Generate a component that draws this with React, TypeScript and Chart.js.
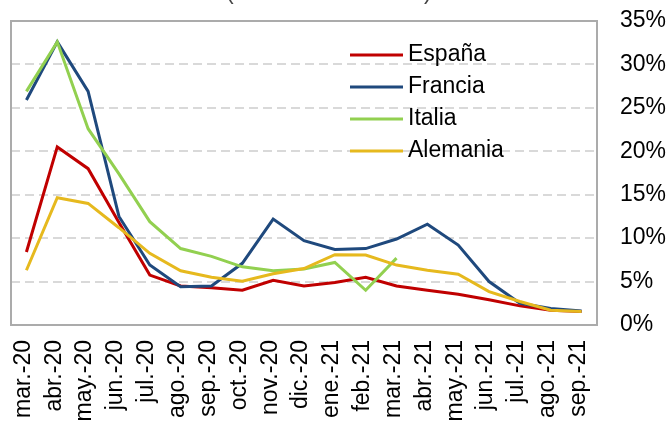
import React, { useEffect, useRef } from "react";
import { Chart, registerables } from "chart.js";

Chart.register(...registerables);

const categories = [
  "mar.-20", "abr.-20", "may.-20", "jun.-20", "jul.-20", "ago.-20", "sep.-20",
  "oct.-20", "nov.-20", "dic.-20", "ene.-21", "feb.-21", "mar.-21", "abr.-21",
  "may.-21", "jun.-21", "jul.-21", "ago.-21", "sep.-21",
];

const espana = [8.4, 20.5, 18.0, 11.8, 5.75, 4.5, 4.3, 4.0, 5.15, 4.5, 4.9, 5.5, 4.5, 4.0, 3.55, 2.9, 2.2, 1.7, 1.55];
const francia = [25.9, 32.6, 26.9, 12.5, 6.9, 4.4, 4.5, 7.1, 12.2, 9.7, 8.7, 8.8, 9.9, 11.6, 9.2, 5.0, 2.5, 1.9, 1.6];
const italia = [26.9, 32.6, 22.6, 17.4, 11.9, 8.8, 7.9, 6.7, 6.25, 6.45, 7.2, 4.0, 7.7, null, null, null, null, null, null];
const alemania = [6.3, 14.65, 14.0, 11.2, 8.25, 6.25, 5.5, 5.05, 5.9, 6.5, 8.1, 8.05, 6.9, 6.3, 5.85, 3.85, 2.7, 1.7, 1.55];

const seriesNames = ["España", "Francia", "Italia", "Alemania"];
const seriesColors = ["#C00000", "#1F497D", "#92D050", "#E6B91E"];

const yMin = 0;
const yMax = 35;
const yStep = 5;

const FONT = "'Liberation Sans', Arial, sans-serif";
const FS = 23;

const boxAndLegend = {
  id: "boxAndLegend",
  afterDraw(chart: any) {
    const { ctx, chartArea } = chart;
    ctx.save();
    // plot border
    ctx.strokeStyle = "#ABABAB";
    ctx.lineWidth = 2;
    ctx.strokeRect(chartArea.left, chartArea.top, chartArea.right - chartArea.left, chartArea.bottom - chartArea.top);

    // legend inside plot
    const lx = chartArea.left + 339;
    const ly = chartArea.top + 34;
    const rowH = 32;
    ctx.font = `${FS}px ${FONT}`;
    ctx.textBaseline = "middle";
    ctx.textAlign = "left";
    seriesNames.forEach((name, i) => {
      const y = ly + i * rowH;
      ctx.strokeStyle = seriesColors[i];
      ctx.lineWidth = 3;
      ctx.beginPath();
      ctx.moveTo(lx, y);
      ctx.lineTo(lx + 53, y);
      ctx.stroke();
      ctx.fillStyle = "#000";
      ctx.fillText(name, lx + 58, y);
    });

    // cut-off title parentheses at the very top
    ctx.fillStyle = "#444";
    ctx.textBaseline = "alphabetic";
    ctx.fillText("(", 226, -1);
    ctx.fillText(")", 424, -1);
    ctx.restore();
  },
};

export default function App() {
  const ref = useRef<HTMLCanvasElement>(null);

  useEffect(() => {
    document.body.style.margin = "0";
    const data = [espana, francia, italia, alemania];
    const chart = new Chart(ref.current as HTMLCanvasElement, {
      type: "line",
      data: {
        labels: categories,
        datasets: data.map((d, i) => ({
          label: seriesNames[i],
          data: d,
          borderColor: seriesColors[i],
          backgroundColor: seriesColors[i],
          borderWidth: 3,
          pointRadius: 0,
          tension: 0,
          spanGaps: false,
          order: 4 - i,
        })),
      },
      options: {
        responsive: false,
        animation: false,
        layout: { padding: { left: 11, top: 21, right: 0, bottom: 0 } },
        plugins: {
          legend: { display: false },
          tooltip: { enabled: false },
          title: { display: false },
        },
        scales: {
          x: {
            offset: true,
            grid: { display: false, drawTicks: false },
            border: { display: false },
            ticks: {
              autoSkip: false,
              minRotation: 90,
              maxRotation: 90,
              padding: 15,
              labelOffset: -3,
              color: "#000",
              font: { family: FONT, size: FS },
            },
            afterFit: (s: any) => { s.height = 98; },
          },
          y: {
            position: "right",
            min: yMin,
            max: yMax,
            grid: {
              color: "#D9D9D9",
              lineWidth: 2,
              drawTicks: true,
              tickLength: 21,
              tickColor: "rgba(0,0,0,0)",
            },
            border: { display: false, dash: [9, 5] },
            ticks: {
              stepSize: yStep,
              padding: 2,
              color: "#000",
              font: { family: FONT, size: FS },
              callback: (v: any) => `${v}%`,
            },
            afterFit: (s: any) => { s.width = 75; },
          },
        },
      },
      plugins: [boxAndLegend],
    });
    return () => chart.destroy();
  }, []);

  return (
    <div style={{ width: 672, height: 423 }}>
      <canvas ref={ref} width={672} height={423} />
    </div>
  );
}
